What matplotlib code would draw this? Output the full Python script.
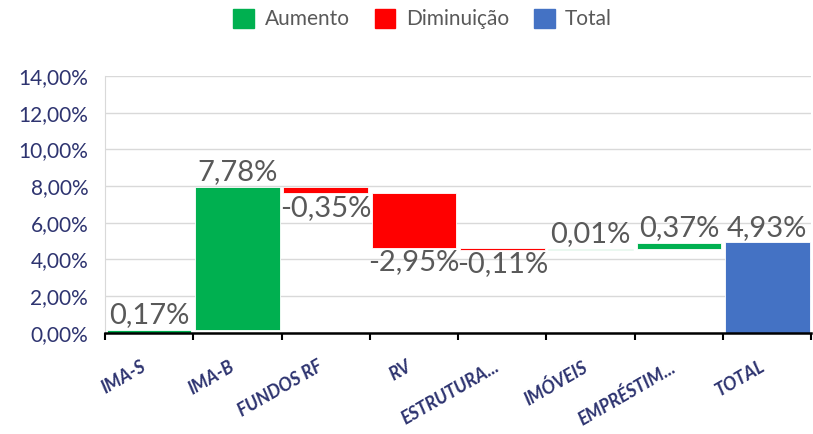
import matplotlib
matplotlib.use("Agg")
import matplotlib.pyplot as plt
import numpy as np
from matplotlib.patches import Patch

plt.rcParams['font.family'] = ['Lato', 'DejaVu Sans']

categorias = ['IMA-S', 'IMA-B', 'FUNDOS RF', 'RV', 'ESTRUTURA...', 'IMÓVEIS', 'EMPRÉSTIM...', 'TOTAL']
valores = [0.17, 7.78, -0.35, -2.95, -0.11, 0.01, 0.37]
total = 4.93
rotulos = ['0,17%', '7,78%', '-0,35%', '-2,95%', '-0,11%', '0,01%', '0,37%', '4,93%']

verde = '#00b050'
vermelho = '#ff0000'
azul = '#4472c4'
navy = '#2e3470'
cinza = '#595959'

acum = np.concatenate(([0], np.cumsum(valores)[:-1]))
x = np.arange(len(categorias))

fig = plt.figure(figsize=(8.13, 4.34), dpi=100)
ax = fig.add_axes([0.129, 0.233, 0.869, 0.592])

for i, v in enumerate(valores):
    base = acum[i] if v >= 0 else acum[i] + v
    cor = verde if v >= 0 else vermelho
    ax.bar(x[i], abs(v), 0.96, bottom=base, color=cor, edgecolor='white', linewidth=0.6, zorder=3)
    if v >= 0:
        ax.text(x[i], acum[i] + v + 0.1, rotulos[i], ha='center', va='bottom', fontsize=21, color=cinza, zorder=4)
    else:
        ax.text(x[i], acum[i] + v - 0.1, rotulos[i], ha='center', va='top', fontsize=21, color=cinza, zorder=4)

ax.bar(x[-1], total, 0.96, color=azul, edgecolor='white', linewidth=0.6, zorder=3)
ax.text(x[-1], total + 0.1, rotulos[-1], ha='center', va='bottom', fontsize=21, color=cinza, zorder=4)

ax.set_xlim(-0.5, len(categorias) - 0.5)
ax.set_ylim(0, 14)
ax.set_yticks(np.arange(0, 15, 2))
ax.set_yticklabels(['%d,00%%' % t for t in np.arange(0, 15, 2)], fontsize=15, color=navy)
ax.yaxis.grid(True, color='#d9d9d9', linewidth=1, zorder=0)
ax.tick_params(axis='y', length=0, pad=12)

ax.set_xticks(np.arange(len(categorias) + 1) - 0.5, minor=True)
ax.set_xticks(x)
ax.set_xticklabels(categorias, rotation=30, ha='right', va='top',
                   fontsize=13, fontweight='bold', fontstyle='italic', color=navy)
ax.tick_params(axis='x', which='major', length=0, pad=18)
ax.tick_params(axis='x', which='minor', length=5, width=1.5, color='black')

for lado in ['top', 'right']:
    ax.spines[lado].set_visible(False)
ax.spines['left'].set_color('#d9d9d9')
ax.spines['bottom'].set_color('black')
ax.spines['bottom'].set_linewidth(1.8)
ax.spines['bottom'].set_zorder(5)

handles = [Patch(color=verde), Patch(color=vermelho), Patch(color=azul)]
fig.legend(handles, ['Aumento', 'Diminuição', 'Total'], loc='center', bbox_to_anchor=(0.52, 0.956),
           ncol=3, frameon=False, fontsize=15, labelcolor=cinza, handlelength=1.0, handleheight=1.0,
           columnspacing=1.2, handletextpad=0.5)

fig.savefig('out.png', dpi=100)
